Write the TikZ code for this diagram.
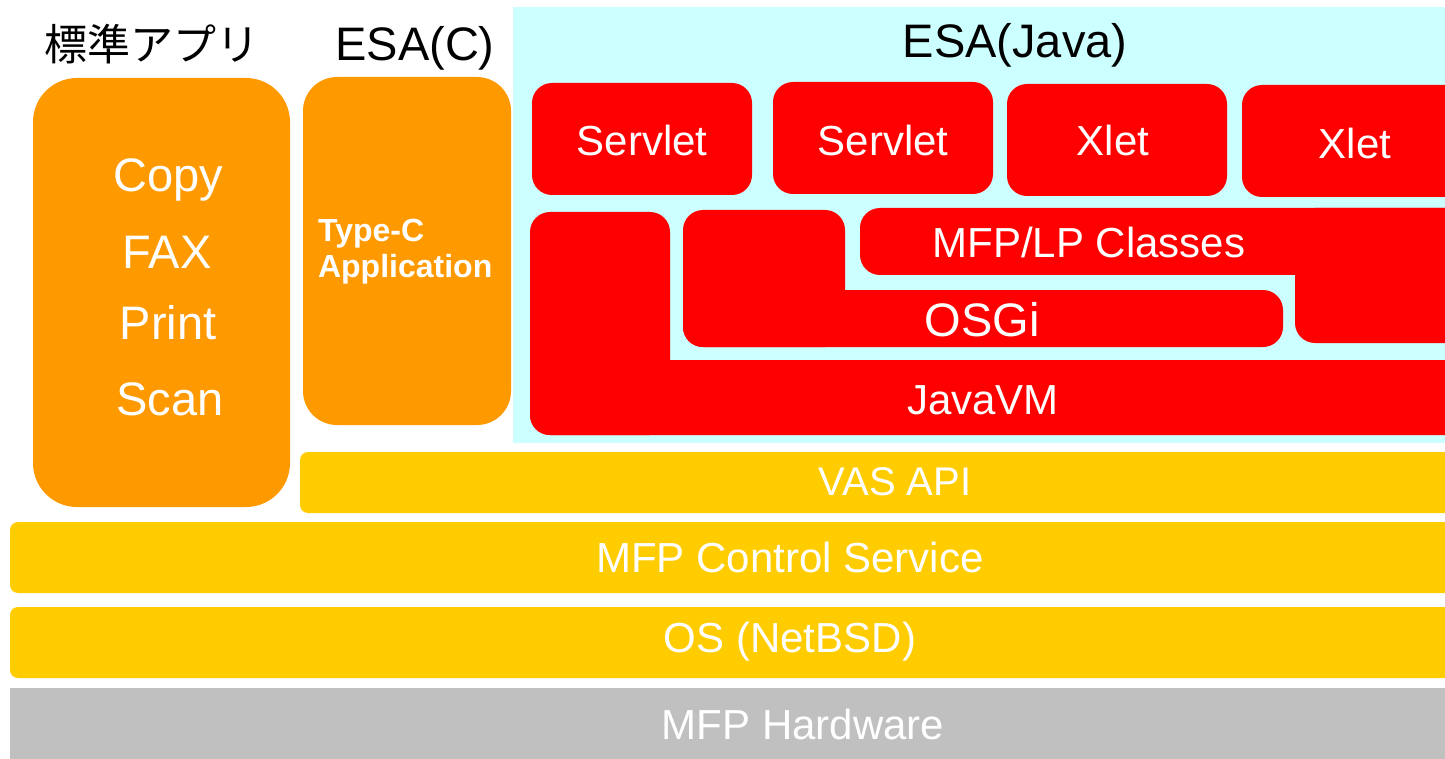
\documentclass[tikz,border=0pt]{standalone}
\usepackage{fontspec}
\setmainfont{Liberation Sans}
\newfontfamily\jpfont{Noto Sans CJK JP}
\usepackage{xcolor}
\usepackage{tikz}
\definecolor{appOrange}{HTML}{FF9900}
\definecolor{javaRed}{HTML}{FF0000}
\definecolor{javaBack}{HTML}{CCFFFF}
\definecolor{baseYellow}{HTML}{FFCC00}
\definecolor{hwGray}{HTML}{C0C0C0}
\tikzstyle{title text}=[text=black, font=\fontsize{23.5}{28}\selectfont]
\tikzstyle{white text}=[text=white, font=\fontsize{21}{25}\selectfont]
\tikzstyle{big white text}=[text=white, font=\fontsize{23.5}{28}\selectfont]
\tikzstyle{java box}=[fill=javaRed, rounded corners=10pt]
\tikzstyle{base box}=[fill=baseYellow, rounded corners=4pt]

\begin{document}
\begin{tikzpicture}[x=0.5pt, y=-0.5pt]
		\useasboundingbox (0,0) rectangle (1445,759);
		\clip (0,0) rectangle (1445,759);

		% background of the Java side
		\fill [javaBack] (513,7) rectangle (1460,443);

		% application boxes
		\fill [appOrange, rounded corners=22pt] (33,78) rectangle (290,507);
		\fill [appOrange, rounded corners=17pt] (303,77) rectangle (511,425);

		\fill [style=java box] (532,83) rectangle (752,195);
		\fill [style=java box] (773,82) rectangle (993,194);
		\fill [style=java box] (1007,84) rectangle (1227,196);
		\fill [style=java box] (1242,85) rectangle (1480,197);

		% L shaped layers
		\fill [style=java box] (860,208) rectangle (1480,275);
		\fill [style=java box] (1295,208) rectangle (1480,343);
		\fill [style=java box] (683,210) rectangle (845,347);
		\fill [style=java box] (683,290) rectangle (1283,347);
		\fill [style=java box] (530,212) rectangle (670,435);
		\fill [style=java box] (530,360) rectangle (1480,435);

		% lower layers
		\fill [style=base box] (300,452) rectangle (1480,513);
		\fill [style=base box] (10,522) rectangle (1480,593);
		\fill [style=base box] (10,607) rectangle (1480,678);
		\fill [hwGray] (10,688) rectangle (1480,770);

		\node [style=title text, font=\jpfont\fontsize{21.5}{26}\selectfont] (0) at (152,44) {標準アプリ};
		\node [style=title text] (1) at (415,48) {ESA(C)};
		\node [style=title text] (2) at (1015,45) {ESA(Java)};

		\node [style=big white text] (3) at (168,180) {Copy};
		\node [style=big white text] (4) at (167,252) {FAX};
		\node [style=big white text] (5) at (168,323) {Print};
		\node [style=big white text] (6) at (170,399) {Scan};

		\node [text=white, anchor=west, align=left, font=\bfseries\fontsize{16}{18}\selectfont] (7) at (311,252) {Type-C\\Application};

		\node [style=white text] (8) at (642,140) {Servlet};
		\node [style=white text] (9) at (883,140) {Servlet};
		\node [style=white text] (10) at (1113,140) {Xlet};
		\node [style=white text] (11) at (1355,143) {Xlet};

		\node [style=white text] (12) at (1089,242) {MFP/LP Classes};
		\node [style=big white text] (13) at (982,320) {OSGi};
		\node [style=white text] (14) at (983,400) {JavaVM};

		\node [style=white text, font=\fontsize{20}{24}\selectfont] (15) at (895,482) {VAS API};
		\node [style=white text] (16) at (790,557) {MFP Control Service};
		\node [style=white text] (17) at (790,642) {OS (NetBSD)};
		\node [style=white text] (18) at (803,724) {MFP Hardware};

\end{tikzpicture}
\end{document}
